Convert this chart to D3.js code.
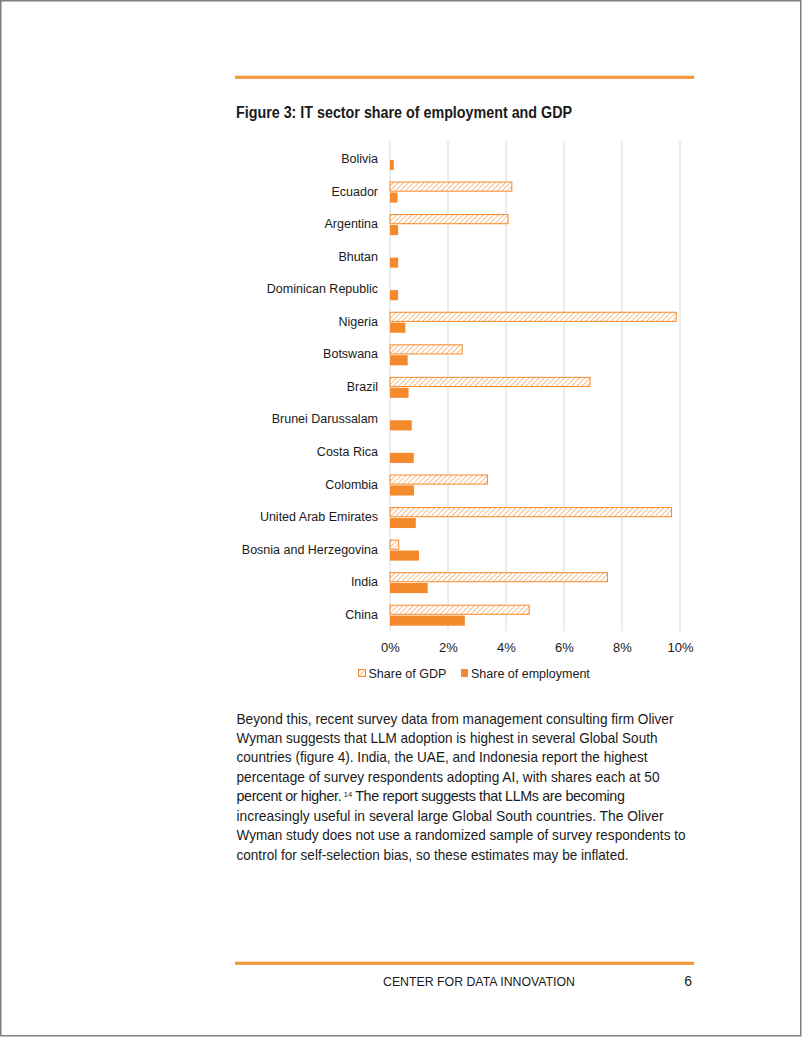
<!DOCTYPE html>
<html><head><meta charset="utf-8">
<script src="https://cdn.jsdelivr.net/npm/d3@7"></script>
<style>
html,body{margin:0;padding:0;background:#fff;}
svg{display:block;}
text{font-family:"Liberation Sans",Arial,sans-serif;fill:#1a1a1a;}
</style></head>
<body>
<svg id="page" width="802" height="1037"></svg>
<script>
const countries = ["Bolivia","Ecuador","Argentina","Bhutan","Dominican Republic","Nigeria","Botswana","Brazil","Brunei Darussalam","Costa Rica","Colombia","United Arab Emirates","Bosnia and Herzegovina","India","China"];
const gdpShare = [null,4.2,4.07,null,null,9.87,2.49,6.9,null,null,3.36,9.71,0.3,7.5,4.8];
const empShare = [0.13,0.26,0.28,0.28,0.28,0.53,0.61,0.64,0.75,0.82,0.83,0.89,1.0,1.3,2.58];
const seriesNames = ["Share of GDP","Share of employment"];
const xTicks = [0,2,4,6,8,10];
const title = "Figure 3: IT sector share of employment and GDP";
const bodyLines = [
 "Beyond this, recent survey data from management consulting firm Oliver",
 "Wyman suggests that LLM adoption is highest in several Global South",
 "countries (figure 4). India, the UAE, and Indonesia report the highest",
 "percentage of survey respondents adopting AI, with shares each at 50",
 "percent or higher.|14| The report suggests that LLMs are becoming",
 "increasingly useful in several large Global South countries. The Oliver",
 "Wyman study does not use a randomized sample of survey respondents to",
 "control for self-selection bias, so these estimates may be inflated."
];
const bodyWidths = [437,421,411,423,391,427,449,392];
const footerText = "CENTER FOR DATA INNOVATION";
const pageNum = "6";

const ORANGE = "#F58A2C";
const RULE = "#F29A3B";
const svg = d3.select("#page");

// page frame
svg.append("rect").attr("x",0.75).attr("y",0.75).attr("width",800).attr("height",1035)
  .attr("fill","#fff").attr("stroke","#7f7f7f").attr("stroke-width",1.5);

// rules
svg.append("rect").attr("x",235).attr("y",75.7).attr("width",459).attr("height",3.2).attr("fill",RULE);
svg.append("rect").attr("x",235).attr("y",961.7).attr("width",459).attr("height",3.2).attr("fill",RULE);

// title
svg.append("text").attr("x",236).attr("y",118).attr("font-size",16).attr("font-weight","bold")
  .attr("textLength",336).attr("lengthAdjust","spacingAndGlyphs").text(title);

// hatch pattern
const defs = svg.append("defs");
const pat = defs.append("pattern").attr("id","hatch").attr("patternUnits","userSpaceOnUse")
  .attr("width",3.6).attr("height",3.6).attr("patternTransform","rotate(45)");
pat.append("rect").attr("width",3.6).attr("height",3.6).attr("fill","#fff");
pat.append("line").attr("x1",0).attr("y1",0).attr("x2",0).attr("y2",3.6)
  .attr("stroke",ORANGE).attr("stroke-width",1.1);

// scales
const x = d3.scaleLinear().domain([0,10]).range([390,680]);
const step = 32.55, pi = 1 - 21/step, po = 0.246;
const y = d3.scaleBand().domain(countries).range([141, 141 + step*(15 - pi + 2*po)])
  .paddingInner(pi).paddingOuter(po);
const ys = d3.scaleBand().domain(seriesNames).range([0, y.bandwidth()]).paddingInner(0.07);

// gridlines
svg.append("g").selectAll("line").data(xTicks).join("line")
  .attr("x1",d=>x(d)).attr("x2",d=>x(d)).attr("y1",141).attr("y2",631)
  .attr("stroke","#d9d9d9").attr("stroke-width",1);

// x axis labels
const xAxis = d3.axisBottom(x).tickValues(xTicks).tickFormat(d=>d+"%").tickSize(0).tickPadding(0);
const gx = svg.append("g").attr("transform","translate(0,642.5)").call(xAxis);
gx.select(".domain").remove();
gx.selectAll("text").attr("font-size",13).attr("fill","#333").attr("font-family","Liberation Sans, Arial, sans-serif");

// y axis labels
const yAxis = d3.axisLeft(y).tickSize(0).tickPadding(0);
const gy = svg.append("g").attr("transform","translate(378,-0.5)").call(yAxis);
gy.select(".domain").remove();
gy.selectAll("text").attr("font-size",12.5).attr("fill","#1a1a1a").attr("font-family","Liberation Sans, Arial, sans-serif");

// bars
const rows = countries.map((c,i)=>({c, gdp:gdpShare[i], emp:empShare[i]}));
svg.append("g").selectAll("rect").data(rows.filter(r=>r.gdp!=null)).join("rect")
  .attr("x",x(0)).attr("y",r=>y(r.c)+ys(seriesNames[0])+0.5)
  .attr("width",r=>x(r.gdp)-x(0)).attr("height",ys.bandwidth()-1)
  .attr("fill","url(#hatch)").attr("stroke",ORANGE).attr("stroke-width",1);
svg.append("g").selectAll("rect").data(rows).join("rect")
  .attr("x",x(0)).attr("y",r=>y(r.c)+ys(seriesNames[1]))
  .attr("width",r=>x(r.emp)-x(0)).attr("height",ys.bandwidth())
  .attr("fill",ORANGE);

// legend
const lg = svg.append("g").attr("transform","translate(0,673)");
lg.append("rect").attr("x",358.5).attr("y",-3.5).attr("width",7).attr("height",7)
  .attr("fill","url(#hatch)").attr("stroke",ORANGE).attr("stroke-width",1);
lg.append("text").attr("x",368.5).attr("y",4.5).attr("font-size",12.5).text(seriesNames[0]);
lg.append("rect").attr("x",461).attr("y",-4).attr("width",7).attr("height",8).attr("fill",ORANGE);
lg.append("text").attr("x",471).attr("y",4.5).attr("font-size",12.5).text(seriesNames[1]);

// body text
const bt = svg.append("g");
const FS = 14.3;
bodyLines.forEach((ln,i)=>{
  const by = 723.5 + i*19.45;
  const parts = ln.split("|");
  if(parts.length===1){
    bt.append("text").attr("x",236.5).attr("y",by).attr("font-size",FS)
      .attr("textLength",bodyWidths[i]).attr("lengthAdjust","spacingAndGlyphs").text(ln);
  } else {
    const t1 = bt.append("text").attr("x",236.5).attr("y",by).attr("font-size",FS).text(parts[0]);
    const t3 = bt.append("text").attr("y",by).attr("font-size",FS).text(parts[2].trimStart());
    const w1 = t1.node().getComputedTextLength();
    const w3 = t3.node().getComputedTextLength();
    const supW = 8, gap = 2.5;
    const target = bodyWidths[i] - supW - 2*gap - 4;
    const n = parts[0].length + parts[2].trimStart().length;
    const ls = Math.min(0, (target - (w1 + w3)) / n);
    t1.attr("letter-spacing", ls);
    t3.attr("letter-spacing", ls);
    const w1b = t1.node().getBBox().width;
    const supX = 236.5 + w1b + gap;
    bt.append("text").attr("x",supX).attr("y",by-4).attr("font-size",7.5).text(parts[1]);
    t3.attr("x", supX + supW + gap + 1);
  }
});

// footer
svg.append("text").attr("x",383).attr("y",986).attr("font-size",13.5)
  .attr("textLength",192).attr("lengthAdjust","spacingAndGlyphs").text(footerText);
svg.append("text").attr("x",692).attr("y",986).attr("font-size",14).attr("text-anchor","end").text(pageNum);
</script>
</body></html>
